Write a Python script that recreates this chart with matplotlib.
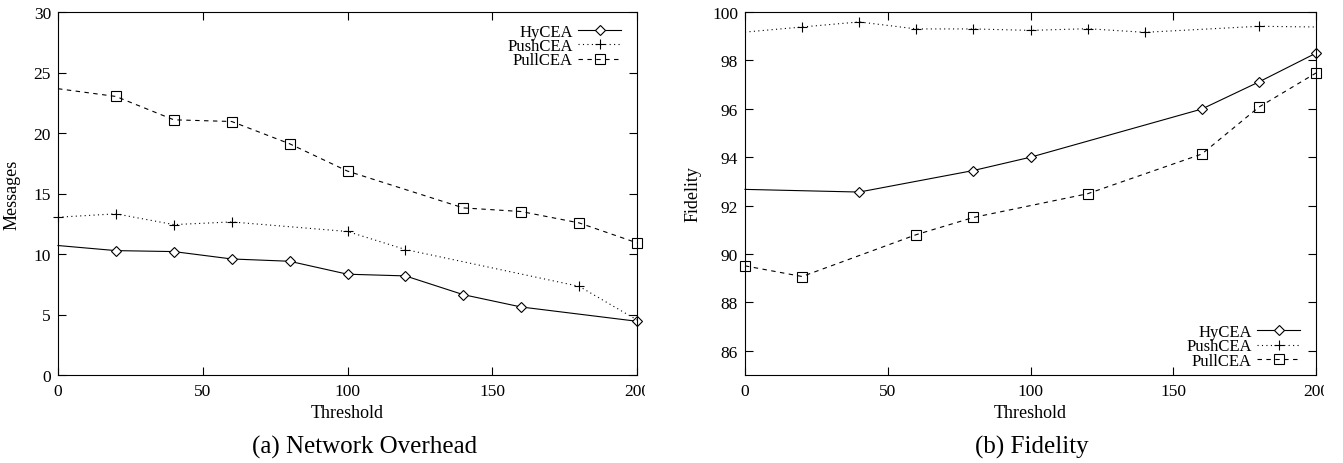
import matplotlib
matplotlib.use("Agg")
import matplotlib.pyplot as plt
from matplotlib.transforms import Bbox, TransformedBbox

plt.rcParams['font.family'] = ['Liberation Serif', 'DejaVu Serif']

# ---- data: (a) Network Overhead ----
hy_a_x = [0, 20, 40, 60, 80, 100, 120, 140, 160, 200]
hy_a_y = [10.70, 10.28, 10.20, 9.59, 9.40, 8.33, 8.19, 6.64, 5.62, 4.44]
push_a_x = [0, 20, 40, 60, 100, 120, 180, 200]
push_a_y = [13.04, 13.32, 12.43, 12.65, 11.86, 10.37, 7.33, 4.55]
pull_a_x = [0, 20, 40, 60, 80, 100, 140, 160, 180, 200]
pull_a_y = [23.66, 23.02, 21.09, 20.95, 19.11, 16.85, 13.81, 13.51, 12.57, 10.92]

# ---- data: (b) Fidelity ----
hy_b_x = [0, 40, 80, 100, 160, 180, 200]
hy_b_y = [92.67, 92.56, 93.45, 94.00, 95.99, 97.11, 98.30]
push_b_x = [0, 20, 40, 60, 80, 100, 120, 140, 180, 200]
push_b_y = [99.17, 99.38, 99.59, 99.30, 99.30, 99.24, 99.31, 99.16, 99.41, 99.38]
pull_b_x = [0, 20, 60, 80, 120, 160, 180, 200]
pull_b_y = [89.51, 89.07, 90.80, 91.51, 92.49, 94.13, 96.07, 97.48]

labels = ["HyCEA", "PushCEA", "PullCEA"]
x_ticks = [0, 50, 100, 150, 200]

W, H = 1343, 464
fig = plt.figure(figsize=(W / 100, H / 100), dpi=100)

ax1 = fig.add_axes([58 / W, 1 - 376 / H, (637 - 58) / W, 363 / H])
ax2 = fig.add_axes([745 / W, 1 - 376 / H, (1316 - 745) / W, 363 / H])

lw = 0.8
styles = [
    dict(color='black', lw=lw, ls='-', marker='D', ms=5, mfc='white', mec='black', mew=0.8),
    dict(color='black', lw=lw, ls=(0, (1, 3)), marker='+', ms=7.5, mec='black', mew=0.8),
    dict(color='black', lw=lw, ls=(0, (4, 4)), marker='s', ms=7, mfc='none', mec='black', mew=0.8),
]

# (a)
ax1.plot(hy_a_x, hy_a_y, markevery=list(range(1, len(hy_a_x))), label=labels[0], clip_on=False, **styles[0])
ax1.plot(push_a_x, push_a_y, markevery=list(range(0, len(push_a_x) - 1)), label=labels[1], clip_on=False, **styles[1])
ax1.plot(pull_a_x, pull_a_y, markevery=list(range(1, len(pull_a_x))), label=labels[2], clip_on=False, **styles[2])
ax1.set_xlim(0, 200)
ax1.set_ylim(0, 30)
ax1.set_yticks([0, 5, 10, 15, 20, 25, 30])
ax1.set_ylabel("Messages", fontsize=13)
ax1.yaxis.set_label_coords(-0.064, 0.5)

# (b)
ax2.plot(hy_b_x, hy_b_y, markevery=list(range(1, len(hy_b_x))), label=labels[0], clip_on=False, **styles[0])
ax2.plot(push_b_x, push_b_y, markevery=list(range(1, len(push_b_x) - 1)), label=labels[1], clip_on=False, **styles[1])
ax2.plot(pull_b_x, pull_b_y, label=labels[2], clip_on=False, **styles[2])
ax2.set_xlim(0, 200)
ax2.set_ylim(85, 100)
ax2.set_yticks([86, 88, 90, 92, 94, 96, 98, 100])
ax2.set_ylabel("Fidelity", fontsize=13)
ax2.yaxis.set_label_coords(-0.076, 0.5)

for ax, clip_x in ((ax1, 645), (ax2, 1324)):
    ax.set_xticks(x_ticks)
    ax.set_xlabel("Threshold", fontsize=13)
    ax.xaxis.set_label_coords(0.5, -0.080)
    ax.tick_params(direction='in', length=6, width=0.8, top=True, right=True,
                   labelsize=12.5)
    ax.tick_params(axis='x', pad=6)
    ax.tick_params(axis='y', pad=5)
    for s in ax.spines.values():
        s.set_linewidth(0.8)
    cb = TransformedBbox(Bbox([[0, 0], [clip_x / W, 1]]), fig.transFigure)
    for t in ax.get_xticklabels():
        t.set_clip_on(True)
        t.set_clip_box(cb)

leg_kw = dict(frameon=False, markerfirst=False, fontsize=12, handlelength=2.6,
              handletextpad=0.3, labelspacing=-0.1, borderaxespad=0.3, numpoints=1)
ax1.legend(loc='upper right', bbox_to_anchor=(0.993, 1.0), **leg_kw)
ax2.legend(loc='lower right', bbox_to_anchor=(0.993, -0.015), **leg_kw)

fig.text(365 / W, 1 - 447 / H, "(a) Network Overhead", ha='center', va='center', fontsize=18)
fig.text(1032 / W, 1 - 447 / H, "(b) Fidelity", ha='center', va='center', fontsize=18)

fig.savefig("out.png", dpi=100)
